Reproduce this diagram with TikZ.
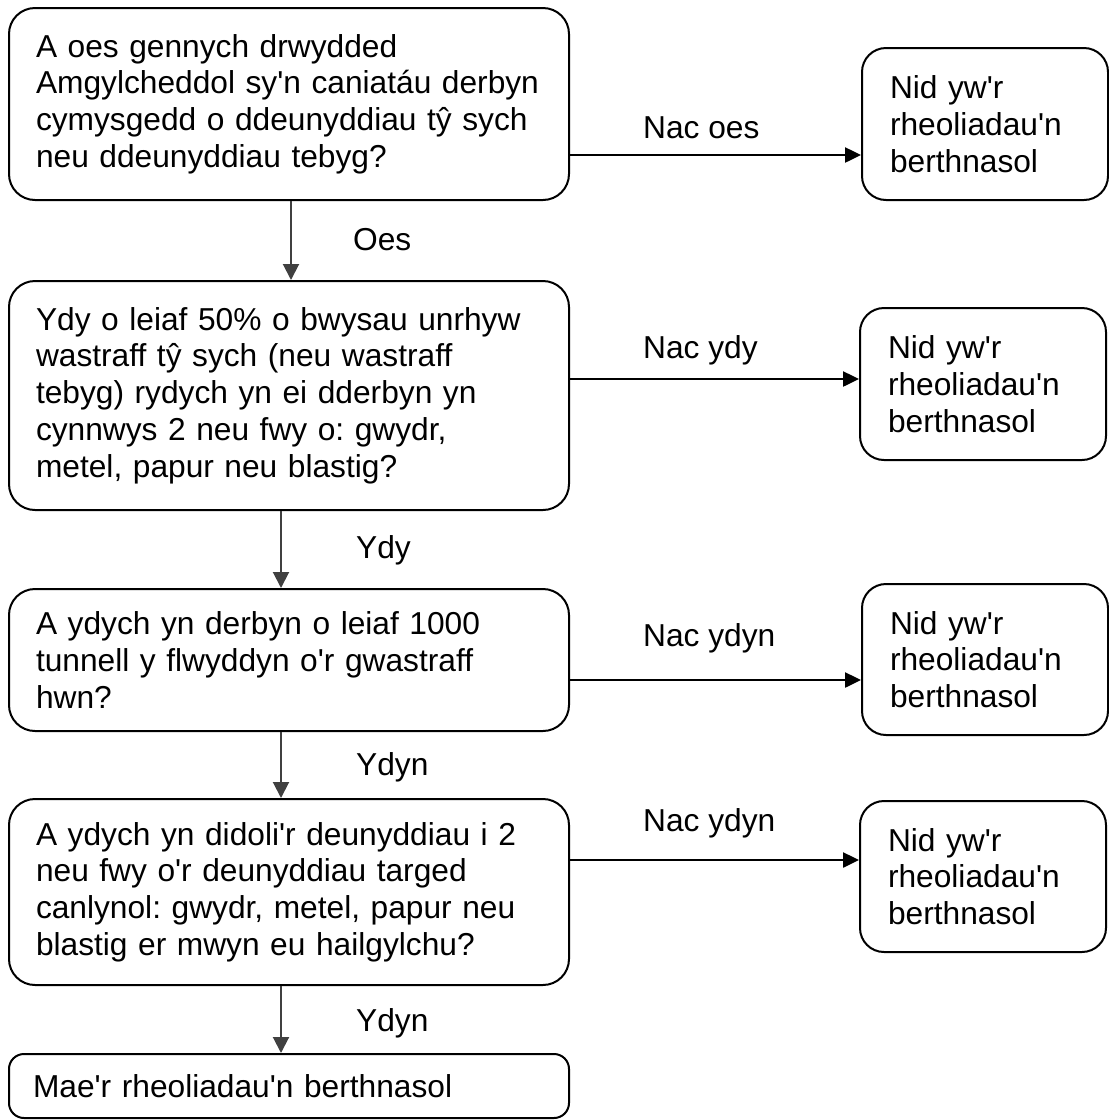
\documentclass[tikz,border=0pt]{standalone}
\usepackage{fontspec}
\setmainfont{Liberation Sans}[Ligatures=TeXOff]
\usetikzlibrary{arrows.meta}

\begin{document}
\begin{tikzpicture}[x=1pt, y=-1pt,
  txt/.style={font=\fontsize{31.7}{36.8}\selectfont\frenchspacing},
  question/.style={txt, draw, line width=2pt, rounded corners=26pt, text width=506pt,
    inner xsep=27pt, inner ysep=0pt, align=left},
  answer/.style={txt, draw, line width=2pt, rounded corners=24pt, text width=190pt,
    inner xsep=28pt, inner ysep=0pt, align=left},
  final/.style={txt, draw, line width=2pt, rounded corners=15pt, text width=512pt,
    inner xsep=24pt, inner ysep=0pt, align=left},
  choice/.style={txt, anchor=west, inner sep=0pt},
  yes arrow/.style={draw=black!75, line width=2pt, -{Triangle[length=16pt, width=16pt]}},
  no arrow/.style={draw=black, line width=2.5pt, -{Triangle[length=16pt, width=15pt]}}]

% The picture has the size of the original drawing (in px)
\useasboundingbox (0,0) rectangle (1109,1120);

% Questions (left column)
\node[question, minimum height=192pt] (q1) at (289, 104)
  {A oes gennych drwydded\\\mbox{Amgylcheddol sy'n caniatáu derbyn}\\cymysgedd o ddeunyddiau tŷ sych\\neu ddeunyddiau tebyg?};
\node[question, minimum height=229pt] (q2) at (289, 395.5)
  {Ydy o leiaf 50\% o bwysau unrhyw\\wastraff tŷ sych (neu wastraff\\tebyg) rydych yn ei dderbyn yn\\cynnwys 2 neu fwy o: gwydr,\\metel, papur neu blastig?};
\node[question, minimum height=142pt] (q3) at (289, 660)
  {A ydych yn derbyn o leiaf 1000\\tunnell y flwyddyn o'r gwastraff\\hwn?};
\node[question, minimum height=186pt] (q4) at (289, 892)
  {A ydych yn didoli'r deunyddiau i 2\\neu fwy o'r deunyddiau targed\\canlynol: gwydr, metel, papur neu\\blastig er mwyn eu hailgylchu?};
\node[final, minimum height=64pt] (yes) at (289, 1086)
  {Mae'r rheoliadau'n berthnasol};

% Answers (right column)
\node[answer, minimum height=152pt] (no1) at (985, 124) {Nid yw'r\\rheoliadau'n\\berthnasol};
\node[answer, minimum height=152pt] (no2) at (983, 384) {Nid yw'r\\rheoliadau'n\\berthnasol};
\node[answer, minimum height=151pt] (no3) at (985, 659.5) {Nid yw'r\\rheoliadau'n\\berthnasol};
\node[answer, minimum height=151pt] (no4) at (983, 876.5) {Nid yw'r\\rheoliadau'n\\berthnasol};

% Heights of the horizontal arrows
\coordinate (no level 1) at (0, 155);
\coordinate (no level 2) at (0, 379);
\coordinate (no level 3) at (0, 680);
\coordinate (no level 4) at (0, 860);

% Arrows down
\draw[yes arrow] ([xshift=2pt]q1.south) -- ([xshift=2pt]q2.north);
\draw[yes arrow] ([xshift=-8pt]q2.south) -- ([xshift=-8pt]q3.north);
\draw[yes arrow] ([xshift=-8pt]q3.south) -- ([xshift=-8pt]q4.north);
\draw[yes arrow] ([xshift=-8pt]q4.south) -- ([xshift=-8pt]yes.north);

% Arrows to the right
\draw[no arrow] (q1.east |- no level 1) -- (no1.west |- no level 1);
\draw[no arrow] (q2.east |- no level 2) -- (no2.west |- no level 2);
\draw[no arrow] (q3.east |- no level 3) -- (no3.west |- no level 3);
\draw[no arrow] (q4.east |- no level 4) -- (no4.west |- no level 4);

% labels
\node[choice] (oes) at (353, 240) {Oes};
\node[choice] (ydy) at (356, 550) {Ydy};
\node[choice] (ydyn 1) at (356, 767) {Ydyn};
\node[choice] (ydyn 2) at (356, 1023) {Ydyn};
\node[choice] (nac oes) at (643, 128) {Nac oes};
\node[choice] (nac ydy) at (643, 350) {Nac ydy};
\node[choice] (nac ydyn 1) at (643, 638) {Nac ydyn};
\node[choice] (nac ydyn 2) at (643, 823) {Nac ydyn};

\end{tikzpicture}
\end{document}
